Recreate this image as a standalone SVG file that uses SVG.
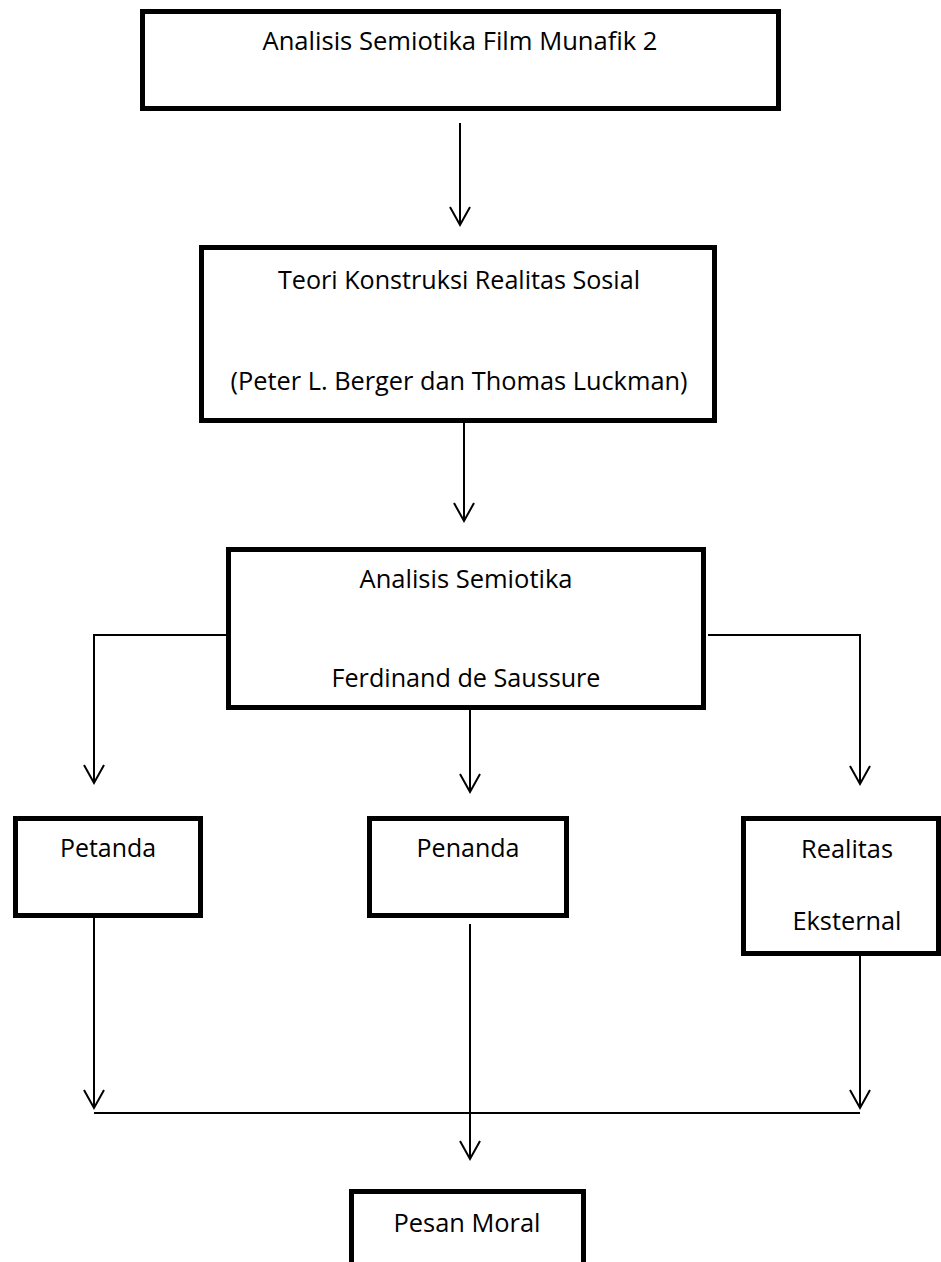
<svg xmlns="http://www.w3.org/2000/svg" width="941" height="1262" viewBox="0 0 941 1262">
<style>
.box{fill:#fff;stroke:#000;stroke-width:5}
.lbl{font-family:"Open Sans","Noto Sans",sans-serif;font-size:25px;fill:#000;text-anchor:middle}
.c{fill:none;stroke:#000;stroke-width:2}
</style>
<defs>
<marker id="arr" markerUnits="userSpaceOnUse" markerWidth="40" markerHeight="40" refX="0" refY="0" orient="auto" overflow="visible">
<path d="M-18,-10 L0,0 L-18,10" fill="none" stroke="#000" stroke-width="2"/>
</marker>
</defs>
<rect width="941" height="1262" fill="#fff"/>
<g id="connectors">
<line class="c" x1="460" y1="123" x2="460" y2="225" marker-end="url(#arr)"/>
<line class="c" x1="464" y1="423" x2="464" y2="521" marker-end="url(#arr)"/>
<polyline class="c" points="232,635 94,635 94,783" marker-end="url(#arr)"/>
<polyline class="c" points="708,635 860,635 860,784" marker-end="url(#arr)"/>
<line class="c" x1="470" y1="710" x2="470" y2="792" marker-end="url(#arr)"/>
<line class="c" x1="94" y1="918" x2="94" y2="1108" marker-end="url(#arr)"/>
<line class="c" x1="860" y1="956" x2="860" y2="1108" marker-end="url(#arr)"/>
<line class="c" x1="94" y1="1113" x2="860" y2="1113"/>
<line class="c" x1="470" y1="924" x2="470" y2="1159" marker-end="url(#arr)"/>
</g>
<g id="n1">
<rect class="box" x="142.5" y="11.5" width="636" height="97"/>
<text class="lbl" x="460" y="50" textLength="395" lengthAdjust="spacingAndGlyphs">Analisis Semiotika Film Munafik 2</text>
</g>
<g id="n2">
<rect class="box" x="201.5" y="247.5" width="513" height="173"/>
<text class="lbl" x="459" y="289" textLength="362" lengthAdjust="spacingAndGlyphs">Teori Konstruksi Realitas Sosial</text>
<text class="lbl" x="459" y="390" textLength="457" lengthAdjust="spacingAndGlyphs">(Peter L. Berger dan Thomas Luckman)</text>
</g>
<g id="n3">
<rect class="box" x="228.5" y="549.5" width="475" height="158"/>
<text class="lbl" x="466" y="588" textLength="213" lengthAdjust="spacingAndGlyphs">Analisis Semiotika</text>
<text class="lbl" x="466" y="687" textLength="269" lengthAdjust="spacingAndGlyphs">Ferdinand de Saussure</text>
</g>
<g id="n4">
<rect class="box" x="15.5" y="818.5" width="185" height="97"/>
<text class="lbl" x="108" y="857" textLength="96" lengthAdjust="spacingAndGlyphs">Petanda</text>
</g>
<g id="n5">
<rect class="box" x="369.5" y="818.5" width="197" height="97"/>
<text class="lbl" x="468" y="857" textLength="103" lengthAdjust="spacingAndGlyphs">Penanda</text>
</g>
<g id="n6">
<rect class="box" x="743.5" y="818.5" width="195" height="135"/>
<text class="lbl" x="847" y="858" textLength="92" lengthAdjust="spacingAndGlyphs">Realitas</text>
<text class="lbl" x="847" y="930" textLength="109" lengthAdjust="spacingAndGlyphs">Eksternal</text>
</g>
<g id="n7">
<rect class="box" x="351.5" y="1191.5" width="232" height="100"/>
<text class="lbl" x="467" y="1232" textLength="147" lengthAdjust="spacingAndGlyphs">Pesan Moral</text>
</g>
</svg>
